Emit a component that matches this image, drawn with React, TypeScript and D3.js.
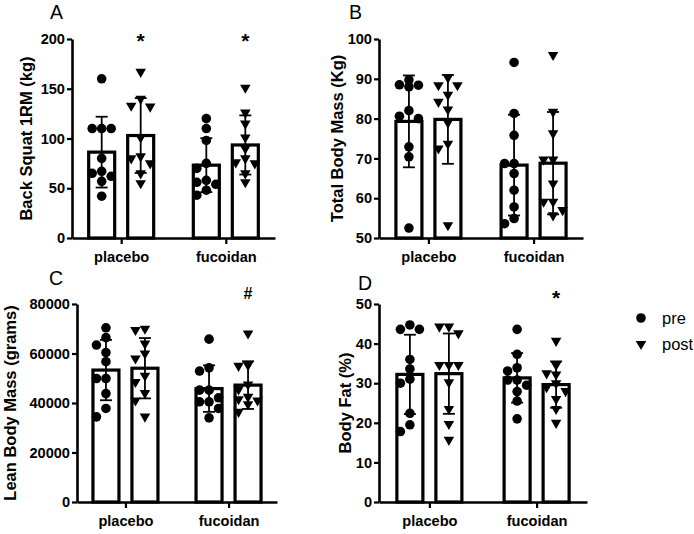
import { useEffect, useRef } from 'react';
import * as d3 from 'd3';

const groups = ['placebo', 'fucoidan'];
const conditions = ['pre', 'post'];

// Back squat 1RM (kg)
const squatPlaceboPre = [160, 110, 110, 110, 80, 67, 65, 62, 57, 42];
const squatPlaceboPost = [167, 140, 133, 132, 101, 82, 80, 75, 65, 55];
const squatFucoidanPre = [120, 110, 98, 75, 70, 58, 56, 54, 48, 43];
const squatFucoidanPost = [151, 126, 115, 101, 90, 80, 76, 75, 65, 56];
const squatTicks = [0, 50, 100, 150, 200];

// Total body mass (kg)
const massPlaceboPre = [89.7, 88.5, 88.4, 88, 82, 80.6, 80, 72.9, 70.4, 52.5];
const massPlaceboPost = [90.3, 88.4, 88.4, 86, 84.2, 82.3, 79, 73.7, 72.5, 53.2];
const massFucoidanPre = [94.1, 81.3, 75.8, 68.7, 68.7, 66.2, 62, 57.8, 54.9, 53.6];
const massFucoidanPost = [96, 81.7, 76.3, 69.7, 69.7, 63.7, 59.1, 59.1, 57, 55.7];
const massTicks = [50, 60, 70, 80, 90, 100];

// Lean body mass (g)
const leanPlaceboPre = [70400, 66400, 63400, 60400, 56700, 49900, 49900, 43800, 37800, 34400];
const leanPlaceboPost = [70000, 69500, 64000, 60000, 58000, 51000, 48500, 44000, 41000, 34500];
const leanFucoidanPre = [65800, 54200, 52900, 45200, 45200, 42100, 40500, 40500, 37800, 34000];
const leanFucoidanPost = [68100, 55300, 55000, 47500, 45500, 42500, 41500, 41000, 39500, 36400];
const leanTicks = [0, 20000, 40000, 60000, 80000];

// Body fat (%)
const fatPlaceboPre = [44.7, 43.6, 43.6, 36, 33.6, 31, 30, 22.4, 19.5, 17.8];
const fatPlaceboPost = [44.3, 44.3, 42.6, 34.6, 34.6, 34.6, 30.2, 23.5, 19.7, 15.7];
const fatFucoidanPre = [43.6, 37.3, 33.9, 33.1, 30.8, 30.8, 29.5, 27.9, 25.5, 21];
const fatFucoidanPost = [40.7, 34.6, 32.5, 32.2, 30, 29, 28, 26, 23.5, 20];
const fatTicks = [0, 10, 20, 30, 40, 50];

const squatMarks = [
  { group: 'placebo', cond: 'post', text: '*' },
  { group: 'fucoidan', cond: 'post', text: '*' },
];
const leanMarks = [{ group: 'fucoidan', cond: 'post', text: '#' }];
const fatMarks = [{ group: 'fucoidan', cond: 'post', text: '*' }];

const FONT = "'Liberation Sans', Arial, Helvetica, sans-serif";

const panels = [
  {
    letter: 'A', title: 'Back Squat 1RM (kg)', ticks: squatTicks, marks: squatMarks,
    values: {
      placebo: { pre: squatPlaceboPre, post: squatPlaceboPost },
      fucoidan: { pre: squatFucoidanPre, post: squatFucoidanPost },
    },
    box: { left: 72, top: 39, width: 203, height: 199 },
    letterAt: [50, 19], titleX: 26, markY: 36,
  },
  {
    letter: 'B', title: 'Total Body Mass (Kg)', ticks: massTicks, marks: [],
    values: {
      placebo: { pre: massPlaceboPre, post: massPlaceboPost },
      fucoidan: { pre: massFucoidanPre, post: massFucoidanPost },
    },
    box: { left: 379, top: 39, width: 204, height: 199 },
    letterAt: [349, 19], titleX: 337, markY: 0,
  },
  {
    letter: 'C', title: 'Lean Body Mass (grams)', ticks: leanTicks, marks: leanMarks,
    values: {
      placebo: { pre: leanPlaceboPre, post: leanPlaceboPost },
      fucoidan: { pre: leanFucoidanPre, post: leanFucoidanPost },
    },
    box: { left: 77, top: 304, width: 200, height: 198 },
    letterAt: [49, 285], titleX: 10, markY: 293,
  },
  {
    letter: 'D', title: 'Body Fat (%)', ticks: fatTicks, marks: fatMarks,
    values: {
      placebo: { pre: fatPlaceboPre, post: fatPlaceboPost },
      fucoidan: { pre: fatFucoidanPre, post: fatFucoidanPost },
    },
    box: { left: 379, top: 304, width: 208, height: 198 },
    letterAt: [358, 290], titleX: 345, markY: 293,
  },
];

// spread overlapping points sideways inside a bar
function swarm(ys: number[], step: number, minDist: number) {
  const order = d3.range(ys.length).sort((a, b) => ys[a] - ys[b]);
  const placed: { x: number; y: number }[] = [];
  const out: number[] = new Array(ys.length).fill(0);
  const candidates = [0, -step, step];
  for (const i of order) {
    let best = candidates[0];
    let bestScore = Infinity;
    for (const c of candidates) {
      const near = d3.min(placed, p => Math.hypot(p.x - c, p.y - ys[i])) ?? Infinity;
      if (near >= minDist) { best = c; bestScore = -1; break; }
      if (-near < bestScore) { bestScore = -near; best = c; }
    }
    placed.push({ x: best, y: ys[i] });
    out[i] = best;
  }
  return out;
}

const circle = d3.symbol().type(d3.symbolCircle).size(72)();
const triangle = d3.symbol().type(d3.symbolTriangle).size(48)();

export default function App() {
  const svgRef = useRef<SVGSVGElement>(null);

  useEffect(() => {
    if (!svgRef.current) return;
    const svg = d3.select(svgRef.current);
    svg.selectAll('*').remove();

    panels.forEach(p => {
      const { left, top, width, height } = p.box;
      const bottom = top + height;
      const y = d3.scaleLinear()
        .domain([p.ticks[0], p.ticks[p.ticks.length - 1]])
        .range([bottom, top]);
      const x = d3.scalePoint<string>().domain(groups).range([left, left + width]).padding(0.47);
      const sub = d3.scaleBand<string>().domain(conditions).range([-32.5, 32.5]).paddingInner(1 / 3);
      const g = svg.append('g');

      groups.forEach(gr => {
        conditions.forEach(c => {
          const vals = (p.values as any)[gr][c] as number[];
          const mean = d3.mean(vals) as number;
          const sd = d3.deviation(vals) as number;
          const bx = (x(gr) as number) + (sub(c) as number);
          const cx = bx + sub.bandwidth() / 2;

          g.append('rect')
            .attr('x', bx)
            .attr('y', y(mean))
            .attr('width', sub.bandwidth())
            .attr('height', y(p.ticks[0]) - y(mean))
            .attr('fill', '#fff')
            .attr('stroke', '#000')
            .attr('stroke-width', 3.2);

          // mean ± SD
          const eb = g.append('g').attr('stroke', '#000').attr('stroke-width', 1.8);
          eb.append('line').attr('x1', cx).attr('x2', cx).attr('y1', y(mean - sd)).attr('y2', y(mean + sd));
          [mean - sd, mean + sd].forEach(v => {
            eb.append('line').attr('x1', cx - 6).attr('x2', cx + 6).attr('y1', y(v)).attr('y2', y(v));
          });

          const ys = vals.map(v => y(v));
          const dx = swarm(ys, 9.5, 8.6);
          g.selectAll(null)
            .data(vals)
            .enter()
            .append('path')
            .attr('d', c === 'pre' ? circle : triangle)
            .attr('transform', (_, i) => `translate(${cx + dx[i]},${ys[i]})${c === 'post' ? ' rotate(180)' : ''}`)
            .attr('fill', '#000');
        });
      });

      // y axis
      const ya = g.append('g')
        .attr('transform', `translate(${left},0)`)
        .call(d3.axisLeft(y).tickValues(p.ticks).tickFormat(d3.format('d')).tickSize(5).tickSizeOuter(0).tickPadding(2));
      // x axis
      const xa = g.append('g')
        .attr('transform', `translate(0,${bottom})`)
        .call(d3.axisBottom(x).tickSize(6).tickSizeOuter(0).tickPadding(8));
      [ya, xa].forEach(a => {
        a.select('.domain').attr('stroke-width', 2.6).attr('stroke', '#000');
        a.selectAll('.tick line').attr('stroke-width', 2.2).attr('stroke', '#000');
        a.selectAll('.tick text')
          .attr('font-family', FONT)
          .attr('font-size', 14.6)
          .attr('font-weight', 'bold')
          .attr('fill', '#000');
      });

      g.append('text')
        .attr('transform', `translate(${p.titleX},${(top + bottom) / 2}) rotate(-90)`)
        .attr('text-anchor', 'middle')
        .attr('dominant-baseline', 'central')
        .attr('font-family', FONT)
        .attr('font-size', 16.5)
        .attr('font-weight', 'bold')
        .text(p.title);

      g.append('text')
        .attr('x', p.letterAt[0])
        .attr('y', p.letterAt[1])
        .attr('font-family', FONT)
        .attr('font-size', 19.5)
        .text(p.letter);

      p.marks.forEach(m => {
        const cx = (x(m.group) as number) + (sub(m.cond) as number) + sub.bandwidth() / 2;
        g.append('text')
          .attr('x', cx)
          .attr('y', p.markY + (m.text === '*' ? 12 : 6))
          .attr('text-anchor', 'middle')
          .attr('font-family', FONT)
          .attr('font-size', m.text === '*' ? 21 : 16)
          .attr('font-weight', 'bold')
          .text(m.text);
      });
    });

    // legend
    const legend = svg.append('g').attr('font-family', FONT).attr('font-size', 16.5);
    conditions.forEach((c, i) => {
      const ly = 318 + i * 26;
      legend.append('path')
        .attr('d', c === 'pre' ? circle : triangle)
        .attr('transform', `translate(641,${ly})${c === 'post' ? ' rotate(180)' : ''}`)
        .attr('fill', '#000');
      legend.append('text')
        .attr('x', 662)
        .attr('y', ly)
        .attr('dominant-baseline', 'central')
        .text(c);
    });
  }, []);

  return (
    <svg
      ref={svgRef}
      width={694}
      height={534}
      style={{ position: 'absolute', left: 0, top: 0, background: '#fff' }}
    />
  );
}
